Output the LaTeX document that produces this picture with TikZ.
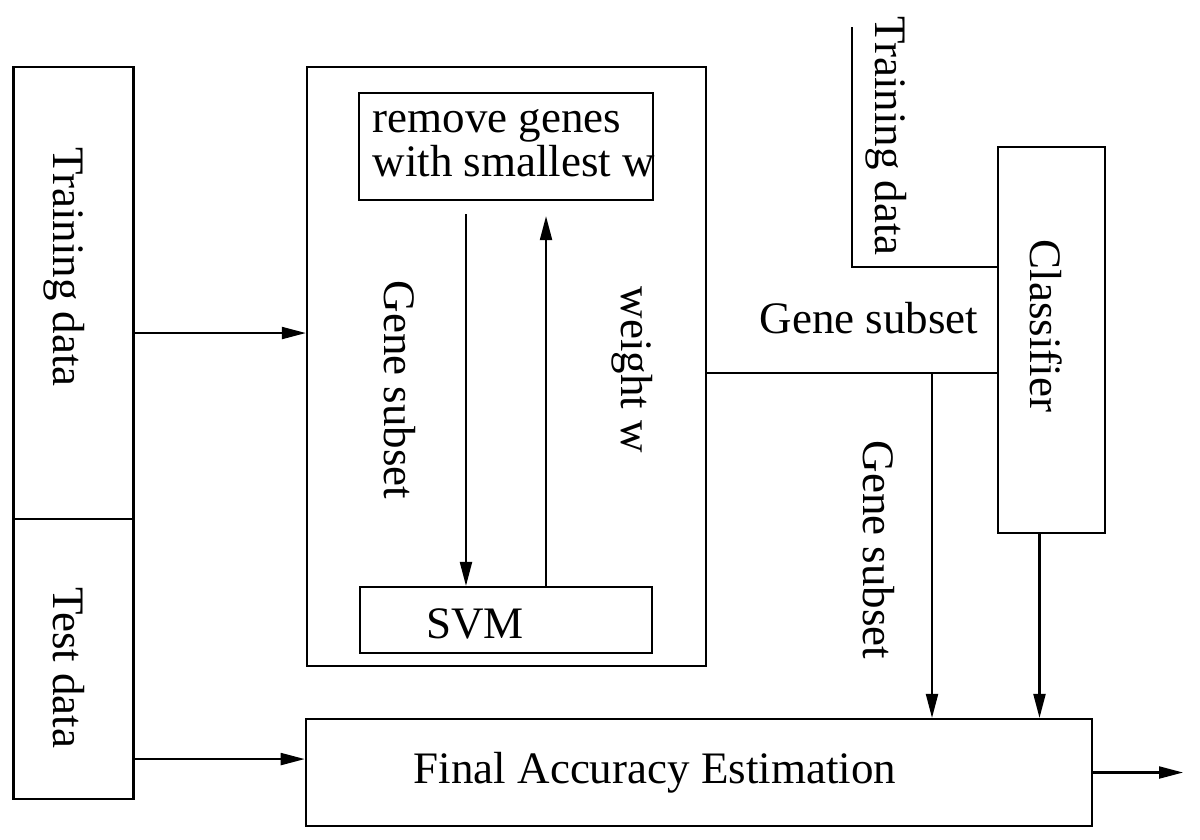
\documentclass[tikz,border=0pt]{standalone}
\usepackage{fontspec}
\setmainfont{Liberation Serif}
\usetikzlibrary{arrows.meta}

\begin{document}
\begin{tikzpicture}[x=0.01cm,y=-0.01cm,
	box/.style={draw,line width=0.6pt,rectangle,inner sep=0pt},
	vert/.style={rotate=-90,inner sep=0pt},
	link/.style={line width=0.6pt},
	flow/.style={line width=0.6pt,-{Triangle[length=0.24cm,width=0.12cm]}},
	font=\fontsize{12.8}{10.8}\selectfont]
	\useasboundingbox (0,0) rectangle (1200,839);
	% Data
	\node[box,minimum width=1.2cm,minimum height=4.52cm] (train) at (73.5,293) {};
	\node[box,minimum width=1.2cm,minimum height=2.8cm] (test) at (73.5,659) {};
	\node[vert] (traintext) at (64,267) {Training data};
	\node[vert] (testtext) at (69,668) {Test data};
	% Selection loop
	\node[box,minimum width=3.99cm,minimum height=5.99cm] (rfe) at (506.5,366.5) {};
	\node[box,minimum width=2.94cm,minimum height=1.07cm] (remove) at (506,146.5) {};
	\node[anchor=west,align=left,inner sep=0pt] (removetext) at ([xshift=0.14cm,yshift=0.035cm]remove.west) {remove genes\\with smallest w};
	\node[box,minimum width=2.92cm,minimum height=0.66cm,label={[xshift=-0.31cm,yshift=-0.04cm]center:SVM}] (svm) at (506,620) {};
	\node[vert] (subsettext) at (400,390) {Gene subset};
	\node[vert] (weighttext) at (632,370) {weight w};
	% Classifier and estimation
	\node[box,minimum width=1.07cm,minimum height=3.86cm] (clf) at (1051.5,340) {};
	\node[vert] (clftext) at (1046,326) {Classifier};
	\node[vert] (clftrain) at (886,136) {Training data};
	\node[inner sep=0pt] (subsetlabel) at (869,318) {Gene subset};
	\node[vert] (subsetdown) at (879,550) {Gene subset};
	\node[box,minimum width=7.86cm,minimum height=1.07cm,label={[xshift=-0.44cm]center:Final Accuracy Estimation}] (final) at (699,772.5) {};
	\coordinate (tdstart) at (852,27);
	\coordinate (split) at (932,373);
	\coordinate (out) at (1183,772.5);
	% Connectors
	\draw[flow] ([yshift=-0.4cm]train.east) -- ([yshift=-0.4cm]train.east -| rfe.west);
	\draw[flow] ([yshift=-1cm]test.east) -- ([yshift=-1cm]test.east -| final.west);
	\draw[flow] ([xshift=-0.4cm,yshift=-0.13cm]remove.south) -- ([xshift=-0.4cm]svm.north);
	\draw[flow] ([xshift=0.4cm]svm.north) -- ([xshift=0.4cm,yshift=-0.15cm]remove.south);
	\draw[link] (split -| rfe.east) -- (split -| clf.west);
	\draw[flow] (split) -- (split |- final.north);
	\draw[flow] ([xshift=-0.12cm]clf.south) -- ([xshift=-0.12cm]clf.south |- final.north);
	\draw[link] (tdstart) |- ([yshift=0.73cm]clf.west);
	\draw[flow] (final.east) -- (out);
\end{tikzpicture}
\end{document}
